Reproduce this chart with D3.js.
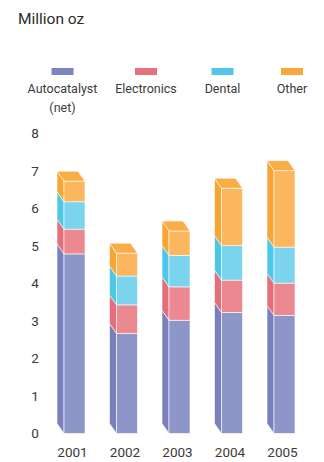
<!DOCTYPE html>
<html>
<head>
<meta charset="utf-8">
<script src="https://cdn.jsdelivr.net/npm/d3@7"></script>
<style>
  html, body { margin: 0; padding: 0; background: #fff; }
  svg { display: block; font-family: Roboto, "DejaVu Sans", sans-serif; }
</style>
</head>
<body>
<svg id="chart" width="324" height="462"></svg>
<script>
// Demand by application, million oz
const years = ["2001", "2002", "2003", "2004", "2005"];
const seriesNames = ["Autocatalyst (net)", "Electronics", "Dental", "Other"];
const autocatalyst = [4.79, 2.67, 3.02, 3.23, 3.15];
const electronics  = [0.66, 0.76, 0.89, 0.86, 0.86];
const dental       = [0.73, 0.77, 0.84, 0.92, 0.96];
const other        = [0.55, 0.61, 0.65, 1.53, 2.04];
const yTicks = [0, 1, 2, 3, 4, 5, 6, 7, 8];

const seriesValues = [autocatalyst, electronics, dental, other];
const keys = ["auto", "elec", "dent", "other"];

// face colours per series: front, side, top, legend swatch
const palette = {
  auto:  { front: "#8e95c8", side: "#7a80bd", top: "#848bc4", swatch: "#7e84c1" },
  elec:  { front: "#ec8890", side: "#e46e79", top: "#e97a84", swatch: "#e8707c" },
  dent:  { front: "#7bd4ee", side: "#4dc7e8", top: "#62cdeb", swatch: "#4fc8e9" },
  other: { front: "#fcb65d", side: "#f9a533", top: "#fbad45", swatch: "#f9a838" }
};

const rows = years.map((y, i) => {
  const r = { year: y };
  keys.forEach((k, j) => r[k] = seriesValues[j][i]);
  return r;
});
const stacked = d3.stack().keys(keys)(rows);

const svg = d3.select("#chart");

const x = d3.scaleBand().domain(years)
  .range([48.25, 48.25 + 5 * 52.5])
  .paddingInner(0.6).paddingOuter(0.3);
const y = d3.scaleLinear().domain([0, 8]).range([433.5, 133.5]);

// oblique depth of the 3D columns
const dx = -7, dy = -10;

// title
svg.append("text").attr("x", 18).attr("y", 23.5)
  .attr("font-size", 15.5).attr("fill", "#2b2b2b").text("Million oz");

// legend
const legendX = [62.5, 146, 222.5, 292];
const legendLines = [["Autocatalyst", "(net)"], ["Electronics"], ["Dental"], ["Other"]];
const legend = svg.append("g");
keys.forEach((k, i) => {
  legend.append("rect")
    .attr("x", legendX[i] - 11).attr("y", 68).attr("width", 22).attr("height", 7)
    .attr("fill", palette[k].swatch);
  legendLines[i].forEach((t, li) => {
    legend.append("text")
      .attr("x", legendX[i]).attr("y", 92.5 + li * 19)
      .attr("text-anchor", "middle").attr("font-size", 12.5)
      .attr("fill", "#3a3a3a").text(t);
  });
});

// value axis labels
const yAxis = d3.axisLeft(y).tickValues(yTicks).tickSize(0).tickPadding(0);
const yg = svg.append("g").attr("transform", "translate(39,0)").call(yAxis);
yg.select(".domain").remove();
yg.selectAll("text").attr("font-size", 13.5).attr("fill", "#3a3a3a")
  .attr("font-family", "Roboto, sans-serif").attr("text-anchor", "middle").attr("dx", "-4");

// category labels
const xAxis = d3.axisBottom(x).tickSize(0).tickPadding(0);
const xg = svg.append("g").attr("transform", "translate(-2,447)").call(xAxis);
xg.select(".domain").remove();
xg.selectAll("text").attr("font-size", 13.5).attr("fill", "#3a3a3a")
  .attr("font-family", "Roboto, sans-serif");

// columns
const bars = svg.append("g");
const edge = "rgba(255,255,255,0.75)";
stacked.forEach((layer, li) => {
  const k = layer.key;
  const g = bars.append("g");
  layer.forEach(d => {
    const x0 = x(d.data.year), w = x.bandwidth();
    const yT = y(d[1]), yB = y(d[0]);
    // side face
    g.append("path")
      .attr("d", `M${x0},${yB}L${x0 + dx},${yB + dy}L${x0 + dx},${yT + dy}L${x0},${yT}Z`)
      .attr("fill", palette[k].side).attr("stroke", edge).attr("stroke-width", 0.8);
    // front face
    g.append("rect")
      .attr("x", x0).attr("y", yT).attr("width", w).attr("height", yB - yT)
      .attr("fill", palette[k].front).attr("stroke", edge).attr("stroke-width", 0.8);
    // top face on the highest segment
    if (li === stacked.length - 1) {
      g.append("path")
        .attr("d", `M${x0},${yT}L${x0 + w},${yT}L${x0 + w + dx},${yT + dy}L${x0 + dx},${yT + dy}Z`)
        .attr("fill", palette[k].top).attr("stroke", edge).attr("stroke-width", 0.8);
    }
  });
});
</script>
</body>
</html>
